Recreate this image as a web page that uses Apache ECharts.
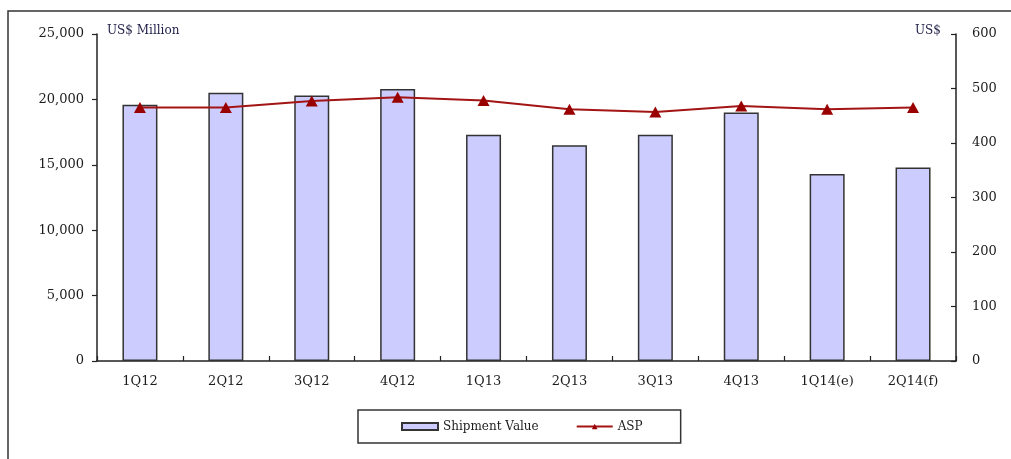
<!DOCTYPE html>
<html>
<head>
<meta charset="utf-8">
<title>Shipment Value and ASP</title>
<script src="https://cdn.jsdelivr.net/npm/echarts@6/dist/echarts.min.js"></script>
<style>
  html, body { margin: 0; padding: 0; background: #ffffff; }
  #chart { width: 1011px; height: 459px; }
</style>
</head>
<body>
<div id="chart"></div>
<script>
// Quarterly shipment value (US$ million) and average selling price (US$)
const quarters = ['1Q12', '2Q12', '3Q12', '4Q12', '1Q13', '2Q13', '3Q13', '4Q13', '1Q14(e)', '2Q14(f)'];
const shipmentValue = [19600, 20500, 20300, 20800, 17300, 16500, 17300, 19000, 14300, 14800];
const asp = [465, 465, 477, 484, 478, 462, 457, 468, 462, 465];
const valueTicks = { min: 0, max: 25000, interval: 5000 };
const aspTicks = { min: 0, max: 600, interval: 100 };

const FONT = '"DejaVu Serif", "Liberation Serif", serif';
const INK = '#1c1c1c';

const chart = echarts.init(document.getElementById('chart'), null, { renderer: 'canvas' });

chart.setOption({
  animation: false,
  backgroundColor: '#ffffff',
  textStyle: { fontFamily: FONT, color: INK },
  grid: { left: 97, right: 55, top: 34, bottom: 98, containLabel: false },
  graphic: [
    {
      type: 'rect',
      shape: { x: 8, y: 11, width: 1100, height: 520 },
      style: { fill: 'none', stroke: '#333333', lineWidth: 1.5 },
      silent: true, z: 0
    },
    {
      type: 'text', left: 107, top: 25,
      style: { text: 'US$ Million', font: '12px ' + FONT, fill: '#1e1e48' }
    },
    {
      type: 'text', left: 915, top: 25,
      style: { text: 'US$', font: '12px ' + FONT, fill: '#1e1e48' }
    }
  ],
  legend: {
    left: 358, top: 410,
    padding: [10, 38, 10, 43],
    itemGap: 37,
    itemWidth: 36, itemHeight: 7,
    borderColor: '#333333', borderWidth: 1.5,
    textStyle: { fontFamily: FONT, fontSize: 12, color: INK, lineHeight: 13 },
    data: [{ name: 'Shipment Value', icon: 'rect' }, { name: 'ASP' }]
  },
  xAxis: {
    type: 'category',
    data: quarters,
    boundaryGap: true,
    axisLine: { lineStyle: { color: '#222222', width: 1.5 } },
    axisTick: { show: true, inside: true, length: 5, alignWithLabel: false, lineStyle: { color: '#222222', width: 1.2 } },
    axisLabel: { fontFamily: FONT, fontSize: 13, color: INK, margin: 14, interval: 0 },
    splitLine: { show: false }
  },
  yAxis: [
    {
      type: 'value',
      min: valueTicks.min, max: valueTicks.max, interval: valueTicks.interval,
      axisLine: { show: true, lineStyle: { color: '#222222', width: 1.5 } },
      axisTick: { show: true, inside: false, length: 5, lineStyle: { color: '#222222', width: 1.2 } },
      axisLabel: {
        fontFamily: FONT, fontSize: 13, color: INK, margin: 13,
        formatter: v => v.toLocaleString('en-US')
      },
      splitLine: { show: false }
    },
    {
      type: 'value',
      position: 'right',
      min: aspTicks.min, max: aspTicks.max, interval: aspTicks.interval,
      axisLine: { show: true, lineStyle: { color: '#222222', width: 1.5 } },
      axisTick: { show: true, inside: true, length: 5, lineStyle: { color: '#222222', width: 1.2 } },
      axisLabel: { fontFamily: FONT, fontSize: 13, color: INK, margin: 16 },
      splitLine: { show: false }
    }
  ],
  series: [
    {
      name: 'Shipment Value',
      type: 'bar',
      yAxisIndex: 0,
      data: shipmentValue,
      barWidth: 35,
      itemStyle: { color: '#ccccff', borderColor: '#333333', borderWidth: 1.5 },
      z: 2
    },
    {
      name: 'ASP',
      type: 'line',
      yAxisIndex: 1,
      data: asp,
      symbol: 'triangle',
      symbolSize: [12, 11],
      lineStyle: { color: '#a31414', width: 2 },
      itemStyle: { color: '#990000' },
      z: 3
    }
  ]
});
</script>
</body>
</html>
